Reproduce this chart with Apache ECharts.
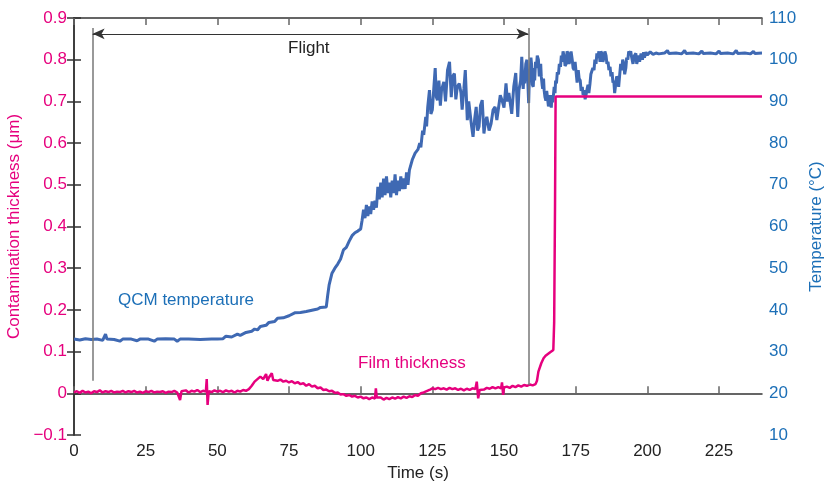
<!DOCTYPE html>
<html>
<head>
<meta charset="utf-8">
<script src="https://cdn.jsdelivr.net/npm/echarts@6/dist/echarts.min.js"></script>
<style>
  html, body { margin: 0; padding: 0; background: #fff; }
  #chart { width: 824px; height: 487px; }
</style>
</head>
<body>
<div id="chart"></div>
<script>
// tick labels
const timeTicks = [0, 25, 50, 75, 100, 125, 150, 175, 200, 225]
const thicknessTicks = [-0.1, 0, 0.1, 0.2, 0.3, 0.4, 0.5, 0.6, 0.7, 0.8, 0.9]
const tempTicks = [10, 20, 30, 40, 50, 60, 70, 80, 90, 100, 110]

// QCM temperature, [time s, °C]
const qcmTemperature = [
  [0, 33.0], [2, 32.8], [4, 33.1], [6, 32.9], [8, 33.0], [10, 32.7], [11, 34.2], [11.5, 33.0],
  [14, 32.9], [16, 32.5], [17, 33.0], [20, 33.0], [22, 32.6], [23, 33.0], [26, 33.0], [28, 32.5],
  [29, 33.0], [32, 33.1], [35, 33.0], [36, 32.5], [37, 33.0], [40, 33.0], [44, 32.9], [48, 33.0],
  [50, 33.0], [52, 33.1], [53, 33.7], [55, 33.5], [57, 34.2], [58, 33.9], [60, 34.6], [62, 34.9],
  [63, 35.4], [64, 35.2], [65, 36.0], [67, 36.3], [68, 37.0], [70, 37.2], [71, 38.0], [73, 38.1],
  [75, 38.6], [77, 39.3], [79, 39.4], [81, 39.6], [83, 39.9], [85, 40.2], [86, 40.6], [88, 40.7],
  [88.5, 43.5], [89, 46.0], [90, 48.8], [91, 50.0], [92, 51.0], [93, 52.2], [94, 54.4], [95, 55.0],
  [96, 56.5], [97, 57.8], [98, 58.5], [99, 58.9], [100, 59.4], [100.5, 61.5], [101, 64.0], [101.5, 62.0],
  [102, 65.2], [102.5, 62.5], [103, 64.8], [103.5, 63.0], [104, 66.0], [104.5, 64.0], [105, 66.2], [105.5, 64.5],
  [106, 69.5], [106.5, 66.5], [107, 70.5], [107.5, 67.0], [108, 71.5], [108.5, 67.5], [109, 72.0], [109.5, 68.0],
  [110, 70.5], [110.5, 67.0], [111, 71.0], [111.5, 68.0], [112, 72.5], [112.5, 67.5], [113, 71.0], [113.5, 68.5],
  [114, 72.0], [114.5, 69.0], [115, 71.5], [115.5, 69.0], [116, 73.0], [116.5, 70.0], [117, 73.5], [118, 76.0],
  [119, 77.6], [120, 78.5], [120.6, 80.0], [121, 79.0], [121.6, 83.0], [122, 82.0], [122.7, 86.3], [123, 84.0],
  [123.4, 88.7], [124, 92.7], [124.5, 87.0], [125, 88.0], [125.5, 93.0], [126, 98.0], [126.4, 91.0], [126.8, 90.3],
  [127.3, 95.0], [127.8, 89.0], [128.2, 92.7], [129, 94.7], [129.6, 90.0], [130.3, 97.5], [131, 99.5], [131.6, 91.0],
  [132.1, 96.0], [132.7, 96.7], [133.2, 90.5], [133.7, 93.5], [134.4, 94.3], [135, 92.0], [135.4, 88.0], [136, 93.0],
  [136.5, 97.5], [137.2, 85.5], [137.7, 90.0], [138.2, 90.3], [138.7, 84.0], [139.2, 81.5], [139.8, 86.0], [140.3, 88.7],
  [140.8, 83.0], [141.3, 84.0], [141.8, 89.0], [142.4, 90.3], [143, 82.3], [143.5, 85.0], [144, 86.3], [144.8, 83.0],
  [145.5, 84.7], [146.2, 88.0], [146.9, 88.7], [147.5, 85.5], [148, 88.0], [148.7, 91.5], [149.3, 90.3], [150, 88.5],
  [150.7, 94.3], [151.2, 90.0], [151.7, 92.0], [152.7, 87.0], [153.4, 93.5], [154.1, 96.8], [154.8, 86.3], [155.2, 92.7],
  [155.8, 95.0], [156.2, 100.7], [156.5, 96.0], [156.7, 93.0], [157, 97.0], [157.2, 94.3], [157.6, 99.0], [158, 100.0],
  [158.3, 95.0], [158.6, 89.6], [158.9, 97.0], [159.1, 96.0], [159.4, 100.5], [159.6, 99.0], [159.9, 94.0], [160.2, 93.5],
  [160.5, 98.0], [160.7, 95.0], [161, 99.5], [161.3, 98.0], [161.6, 101.0], [162, 100.0], [162.3, 96.0], [162.5, 97.0],
  [162.8, 99.0], [163, 96.0], [163.3, 94.0], [163.5, 93.0], [163.8, 95.5], [164, 92.7], [164.3, 91.0], [164.6, 90.2],
  [164.9, 92.5], [165.2, 90.7], [165.5, 88.8], [165.7, 89.3], [166, 91.5], [166.2, 90.0], [166.5, 88.5], [166.7, 91.5],
  [167, 89.8], [167.2, 91.1], [167.5, 93.5], [167.8, 92.0], [168, 95.0], [168.3, 94.3], [168.6, 97.0], [169, 96.5],
  [169.3, 99.0], [169.7, 98.3], [170, 101.0], [170.3, 99.5], [170.6, 102.0], [171, 100.7], [171.3, 98.5], [171.7, 99.0],
  [172, 102.0], [172.4, 101.5], [172.7, 99.0], [173.1, 100.0], [173.4, 102.0], [173.8, 100.0], [174.1, 98.0], [174.5, 97.5],
  [174.8, 99.5], [175.2, 96.7], [175.5, 94.5], [175.9, 97.5], [176.2, 95.5], [176.6, 95.0], [176.9, 92.5], [177.3, 93.5],
  [177.6, 91.5], [178, 92.7], [178.3, 90.5], [178.6, 91.5], [179, 93.0], [179.3, 94.0], [179.6, 92.0], [180, 94.3],
  [180.3, 96.5], [180.7, 96.5], [181, 98.0], [181.4, 97.5], [181.7, 100.0], [182.1, 99.0], [182.4, 101.5], [182.8, 100.7],
  [183.1, 102.0], [183.5, 99.5], [183.8, 102.0], [184.2, 101.5], [184.5, 99.5], [184.9, 100.5], [185.2, 102.0], [185.6, 101.0],
  [185.9, 99.0], [186.3, 99.5], [186.6, 97.5], [187, 98.3], [187.3, 96.0], [187.7, 97.0], [188, 94.5], [188.3, 95.0],
  [188.6, 92.0], [189, 92.3], [189.3, 96.0], [189.7, 95.5], [190, 93.5], [190.4, 96.7], [190.7, 99.0], [191.1, 97.5],
  [191.4, 100.0], [191.8, 99.0], [192.1, 96.5], [192.5, 98.0], [192.8, 100.5], [193.2, 100.0], [193.5, 102.0], [193.9, 101.5],
  [194.2, 102.0], [194.5, 100.7], [195, 99.0], [195.5, 101.0], [196, 101.5], [196.3, 99.0], [196.6, 98.7], [197, 101.0],
  [197.3, 99.5], [197.8, 101.5], [198.3, 100.0], [198.7, 101.8], [199, 100.5], [199.5, 101.8], [200, 101.1], [201, 101.9],
  [202, 101.3], [203, 101.6], [204, 101.4], [206, 101.6], [207, 102.2], [207.5, 101.5], [210, 101.6], [212, 101.4],
  [213, 102.2], [213.5, 101.5], [216, 101.6], [218, 101.4], [219, 102.1], [219.5, 101.5], [222, 101.6], [224, 101.4],
  [225, 102.1], [225.5, 101.5], [228, 101.6], [230, 101.4], [231, 102.2], [231.5, 101.5], [234, 101.6], [236, 101.4],
  [237, 102.0], [237.5, 101.5], [240, 101.6]
]

// film thickness, [time s, µm]
const filmThickness = [
  [0, 0.002], [1, 0.005], [2, 0.001], [3, 0.006], [4, 0.002], [5, 0.004], [6, 0.000], [7, 0.005],
  [8, 0.003], [9, 0.007], [10, 0.002], [11, 0.005], [12, 0.003], [13, 0.006], [14, 0.002], [15, 0.004],
  [16, 0.003], [17, 0.006], [18, 0.002], [19, 0.005], [20, 0.003], [21, 0.006], [22, 0.002], [23, 0.004],
  [24, 0.001], [25, 0.005], [26, 0.003], [27, 0.006], [28, 0.002], [29, 0.004], [30, 0.003], [31, 0.005],
  [32, 0.001], [33, 0.004], [34, 0.003], [35, 0.006], [36, 0.002], [37, -0.016], [37.5, 0.005], [38, 0.003],
  [39, 0.007], [40, 0.002], [41, 0.006], [42, 0.004], [43, 0.008], [44, 0.003], [45, 0.006], [46, 0.004],
  [46.3, 0.034], [46.6, -0.028], [47, 0.005], [48, 0.003], [49, 0.007], [50, 0.004], [51, 0.006], [52, 0.003],
  [53, 0.007], [54, 0.004], [55, 0.006], [56, 0.002], [57, 0.006], [58, 0.004], [59, 0.008], [60, 0.006],
  [61, 0.010], [62, 0.018], [63, 0.028], [64, 0.034], [65, 0.040], [66, 0.034], [67, 0.046], [67.5, 0.030],
  [68, 0.038], [69, 0.048], [69.5, 0.032], [70, 0.036], [71, 0.030], [72, 0.033], [73, 0.028], [74, 0.030],
  [75, 0.026], [76, 0.029], [77, 0.024], [78, 0.027], [79, 0.022], [80, 0.024], [81, 0.018], [82, 0.022],
  [83, 0.016], [84, 0.018], [85, 0.012], [86, 0.014], [87, 0.008], [88, 0.009], [89, 0.005], [90, 0.006],
  [91, 0.001], [92, 0.002], [93, -0.003], [94, -0.002], [95, -0.006], [96, -0.004], [97, -0.008], [98, -0.006],
  [99, -0.010], [100, -0.008], [101, -0.012], [102, -0.010], [103, -0.014], [104, -0.010], [105, -0.013], [105.3, 0.012],
  [105.6, -0.010], [106, -0.014], [107, -0.010], [108, -0.015], [109, -0.011], [110, -0.014], [111, -0.010], [112, -0.013],
  [113, -0.009], [114, -0.012], [115, -0.008], [116, -0.011], [117, -0.007], [118, -0.009], [119, -0.004], [120, -0.006],
  [121, 0.000], [122, 0.002], [123, 0.005], [124, 0.008], [125, 0.012], [126, 0.010], [127, 0.013], [128, 0.010],
  [129, 0.012], [130, 0.009], [131, 0.013], [132, 0.010], [133, 0.012], [134, 0.008], [135, 0.011], [136, 0.007],
  [137, 0.011], [138, 0.008], [139, 0.012], [140, 0.010], [140.5, 0.028], [141, -0.012], [141.5, 0.008], [142, 0.012],
  [143, 0.009], [144, 0.013], [145, 0.011], [146, 0.015], [147, 0.012], [148, 0.015], [149, 0.012], [149.3, 0.026],
  [149.7, -0.004], [150, 0.014], [151, 0.016], [152, 0.013], [153, 0.018], [154, 0.015], [155, 0.019], [156, 0.016],
  [157, 0.020], [158, 0.018], [159, 0.021], [160, 0.019], [161, 0.022], [161.5, 0.030], [162, 0.052], [163, 0.072],
  [163.8, 0.084], [164.5, 0.090], [165, 0.094], [166, 0.098], [167.2, 0.104], [167.5, 0.17], [167.8, 0.45], [168, 0.712],
  [170, 0.712], [180, 0.712], [190, 0.712], [200, 0.712], [210, 0.712], [220, 0.712], [230, 0.712], [240, 0.712]
]

// flight window, s
const flightStart = 6.5
const flightEnd = 158.5

const pink = '#e6007e'
const blue = '#3f69b3'
const blueText = '#1c6fb7'
const axisColor = '#333'
const font = 'Liberation Sans, Arial, sans-serif'

const chart = echarts.init(document.getElementById('chart'))

const fmtThickness = (v) => {
  const r = Math.round(v * 10) / 10
  if (r === 0) return '0'
  return r < 0 ? '\u2212' + Math.abs(r).toFixed(1) : r.toFixed(1)
}

const option = {
  animation: false,
  textStyle: { fontFamily: font },
  grid: { left: 74, right: 62, top: 18, bottom: 52, outerBoundsMode: 'none' },
  xAxis: [
    {
      type: 'value',
      min: timeTicks[0],
      max: 240,
      interval: timeTicks[1] - timeTicks[0],
      name: 'Time (s)',
      nameLocation: 'middle',
      nameGap: 30,
      nameTextStyle: { color: '#222', fontSize: 17, fontFamily: font },
      axisLine: { lineStyle: { color: axisColor, width: 1.5 } },
      axisTick: { inside: true, length: 7, lineStyle: { color: '#666', width: 1.5 } },
      axisLabel: { color: '#222', fontSize: 17, fontFamily: font, margin: 8, showMaxLabel: false },
      splitLine: { show: false }
    },
    {
      type: 'value',
      position: 'top',
      min: timeTicks[0],
      max: 240,
      interval: timeTicks[1] - timeTicks[0],
      axisLine: { lineStyle: { color: axisColor, width: 1.5 } },
      axisTick: { inside: true, length: 7, lineStyle: { color: '#666', width: 1.5 } },
      axisLabel: { show: false },
      splitLine: { show: false }
    }
  ],
  yAxis: [
    {
      type: 'value',
      min: thicknessTicks[0],
      max: thicknessTicks[thicknessTicks.length - 1],
      interval: 0.1,
      name: 'Contamination thickness (\u03bcm)',
      nameLocation: 'middle',
      nameGap: 47,
      nameTextStyle: { color: pink, fontSize: 17, fontFamily: font },
      axisLine: { lineStyle: { color: axisColor, width: 1.5 } },
      axisTick: { inside: true, length: 7, lineStyle: { color: axisColor, width: 1.5 } },
      axisLabel: { color: pink, fontSize: 17, fontFamily: font, margin: 7, formatter: fmtThickness },
      splitLine: { show: false }
    },
    {
      type: 'value',
      position: 'right',
      min: tempTicks[0],
      max: tempTicks[tempTicks.length - 1],
      interval: 10,
      name: 'Temperature (\u00b0C)',
      nameLocation: 'middle',
      nameGap: 39,
      nameRotate: 90,
      nameTextStyle: { color: blueText, fontSize: 17, fontFamily: font },
      axisLine: { lineStyle: { color: axisColor, width: 1.5 } },
      axisTick: { inside: true, length: 7, lineStyle: { color: axisColor, width: 1.5 } },
      axisLabel: { color: blueText, fontSize: 17, fontFamily: font, margin: 7 },
      splitLine: { show: false }
    }
  ],
  series: [
    {
      name: 'QCM temperature',
      type: 'line',
      yAxisIndex: 1,
      data: qcmTemperature,
      showSymbol: false,
      lineStyle: { color: blue, width: 3 },
      z: 3
    },
    {
      name: 'Film thickness',
      type: 'line',
      yAxisIndex: 0,
      data: filmThickness,
      showSymbol: false,
      lineStyle: { color: pink, width: 2.5 },
      z: 4,
      markLine: {
        silent: true,
        symbol: 'none',
        label: { show: false },
        lineStyle: { type: 'solid', color: '#777', width: 1.5 },
        data: [
          [{ coord: [flightStart, 0.876] }, { coord: [flightStart, 0.03] }],
          [{ coord: [flightEnd, 0.876] }, { coord: [flightEnd, 0.02] }],
          [
            { coord: [flightStart, 0.862], symbol: 'arrow', symbolSize: [8, 12], lineStyle: { color: '#333', width: 1.2 } },
            { coord: [flightEnd, 0.862], symbol: 'arrow', symbolSize: [8, 12] }
          ]
        ]
      }
    }
  ],
  graphic: [
    { type: 'text', left: 288, top: 40, style: { text: 'Flight', fill: '#222', font: '17px ' + font } },
    { type: 'text', left: 118, top: 292, style: { text: 'QCM temperature', fill: blueText, font: '17px ' + font } },
    { type: 'text', left: 358, top: 355, style: { text: 'Film thickness', fill: pink, font: '17px ' + font } }
  ]
}

chart.setOption(option)
</script>
</body>
</html>
